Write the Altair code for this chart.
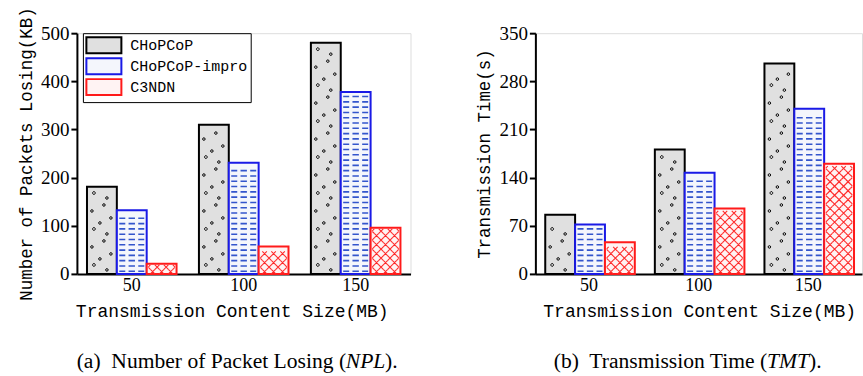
import altair as alt
import pandas as pd

# ---------------- data ----------------
sizes = ["50", "100", "150"]
series = ["CHoPCoP", "CHoPCoP-impro", "C3NDN"]

npl_chopcop = [181, 310, 480]
npl_impro = [132, 231, 378]
npl_c3ndn = [21, 57, 96]

tmt_chopcop = [86, 181, 306]
tmt_impro = [72, 147, 240]
tmt_c3ndn = [46, 95, 160]

npl_ticks = [0, 100, 200, 300, 400, 500]
tmt_ticks = [0, 70, 140, 210, 280, 350]

# ---------------- styles ----------------
SERIF = "Liberation Serif"
MONO = "Liberation Mono"
FILLS = ["#e0e0e0", "#f4f6fc", "#fff3f3"]
STROKES = ["#000000", "#1a1ae6", "#ff1a1a"]
H = 241
W_IN = 28.0
U = W_IN / 2.0  # px per path unit for custom symbols
RECT = "M-2.19,-1L2.19,-1L2.19,1L-2.19,1Z"


def f(v):
    return f"{v / U:.3f}"


def dash_paths():
    p = ""
    for a, b in [(-12.5, -6.5), (-3.2, 3.2), (6.5, 12.5)]:
        p += f"M{f(a)},0L{f(b)},0"
    return [p]


def hatch_paths(s=4.5, d=9.0, n=2, half=13.2):
    out = []
    h = s / 2
    for p in range(n):
        path = ""
        offb = (-p * s) % d
        offf = (p * s) % d
        for j in range(-8, 9):
            c = j * d + offb
            xa, xb = max(c - h, -half), min(c + h, half)
            if xa < xb:
                path += f"M{f(xa)},{f(xa - c)}L{f(xb)},{f(xb - c)}"
            c = j * d + offf
            xa, xb = max(c - h, -half), min(c + h, half)
            if xa < xb:
                path += f"M{f(xa)},{f(c - xa)}L{f(xb)},{f(c - xb)}"
        out.append(path)
    return out


def dot_paths(r=1.3):
    spots = [[(-8, -3), (5, 2)], [(-2, 3), (9, -2)], [(-10, 3), (2, -3)]]
    out = []
    for sp in spots:
        path = ""
        for x, y in sp:
            path += (f"M{f(x - r)},{f(y)}A{f(r)},{f(r)},0,1,0,{f(x + r)},{f(y)}"
                     f"A{f(r)},{f(r)},0,1,0,{f(x - r)},{f(y)}Z")
        out.append(path)
    return out


def levels(vals, name, ymax, step_px, margin, nvar):
    rows = []
    for gi, g in enumerate(sizes):
        vpx = vals[gi] * H / ymax
        k = 0
        while (k + 1) * step_px <= vpx - margin:
            rows.append({"size": g, "series": name,
                         "lvl": (k + 0.5) * step_px * ymax / H,
                         "var": str(k % nvar)})
            k += 1
    return pd.DataFrame(rows)


def pattern(df, paths, color, sw):
    return alt.Chart(df).mark_point(filled=False, strokeWidth=sw, opacity=1,
                                    size=W_IN * W_IN).encode(
        x=alt.X("size:N", sort=sizes),
        xOffset=alt.XOffset("series:N", sort=series),
        y=alt.Y("lvl:Q"),
        shape=alt.Shape("var:N", scale=alt.Scale(domain=[str(i) for i in range(len(paths))],
                                                 range=paths), legend=None),
        color=alt.value(color),
    )


def panel(vals, ymax, ticks, ytitle, lx, ly, width, title_x, cap_pre, cap_it, cap_post, cap_cx, cap_hw):
    rows = []
    for si, s in enumerate(series):
        for gi, g in enumerate(sizes):
            rows.append({"size": g, "series": s, "value": vals[si][gi]})
    df = pd.DataFrame(rows)
    leg = alt.Legend(title=None, orient="none", legendX=lx, legendY=ly,
                     symbolType=RECT, symbolSize=256, symbolStrokeWidth=2,
                     symbolOffset=9, symbolOpacity=1, labelFont=MONO, labelFontSize=15,
                     labelColor="black", labelOffset=17.5, padding=3, rowPadding=-4,
                     strokeColor="black", fillColor="white", labelLimit=0)
    bars = alt.Chart(df).mark_bar(strokeWidth=2, opacity=1).encode(
        x=alt.X("size:N", sort=sizes,
                scale=alt.Scale(paddingInner=0.2, paddingOuter=0.09),
                axis=alt.Axis(title="Transmission Content Size(MB)", labelAngle=0,
                              ticks=False, tickSize=0, domainWidth=2, domainColor="black",
                              labelFont=SERIF, labelFontSize=18, labelColor="black",
                              labelPadding=3, titleFont=MONO, titleFontSize=18,
                              titleFontWeight="normal", titleColor="black",
                              titlePadding=8, titleX=title_x)),
        xOffset=alt.XOffset("series:N", sort=series,
                            scale=alt.Scale(paddingInner=0, paddingOuter=0)),
        y=alt.Y("value:Q", scale=alt.Scale(domain=[0, ymax], nice=False, zero=True),
                axis=alt.Axis(values=ticks, title=ytitle, grid=False, domainWidth=2,
                              domainColor="black", tickColor="black", tickWidth=2,
                              tickSize=6, labelFont=SERIF, labelFontSize=19,
                              labelColor="black", labelPadding=2, titleFont=MONO,
                              titleFontSize=17.5, titleFontWeight="normal",
                              titleColor="black", titlePadding=5)),
        fill=alt.Fill("series:N", sort=series,
                      scale=alt.Scale(domain=series, range=FILLS), legend=leg),
        stroke=alt.Stroke("series:N", sort=series,
                          scale=alt.Scale(domain=series, range=STROKES), legend=leg),
    )
    dots = pattern(levels(vals[0], series[0], ymax, 12, 2, 3), dot_paths(), "#000000", 1.0)
    dashes = pattern(levels(vals[1], series[1], ymax, 5.3, 1.5, 1), dash_paths(), "#3355cc", 1.6)
    hatch = pattern(levels(vals[2], series[2], ymax, 4.5, 1, 2), hatch_paths(), "#ff2a2a", 1.1)

    base_txt = dict(font=SERIF, fontSize=21.6, color="black", baseline="alphabetic")
    c1 = alt.Chart(pd.DataFrame({"t": [cap_pre]})).mark_text(align="right", **base_txt).encode(
        text="t:N", x=alt.value(cap_cx - cap_hw), y=alt.value(335))
    c2 = alt.Chart(pd.DataFrame({"t": [cap_it]})).mark_text(align="center", fontStyle="italic",
                                                          **base_txt).encode(
        text="t:N", x=alt.value(cap_cx), y=alt.value(335))
    c3 = alt.Chart(pd.DataFrame({"t": [cap_post]})).mark_text(align="left", **base_txt).encode(
        text="t:N", x=alt.value(cap_cx + cap_hw), y=alt.value(335))
    return alt.layer(bars, dots, dashes, hatch, c1, c2, c3).resolve_scale(
        shape="independent").properties(width=width, height=H)


left = panel([npl_chopcop, npl_impro, npl_c3ndn], 500, npl_ticks,
             "Number of Packets Losing(KB)", 6, 0, 334, 155,
             "(a)\u00a0 Number of Packet Losing (", "NPL", ").", 289, 19.5)
right = panel([tmt_chopcop, tmt_impro, tmt_c3ndn], 350, tmt_ticks,
              "Transmission Time(s)", 10, 5, 327, 164,
              "(b)\u00a0 Transmission Time (", "TMT", ").", 253, 21)

chart = alt.hconcat(left, right, spacing=64).properties(
    padding={"left": 16, "top": 5, "right": 0, "bottom": 0}
).configure_view(stroke="transparent").configure(background="white")

chart.save("out.html", embed_options={"renderer": "svg", "actions": False})
